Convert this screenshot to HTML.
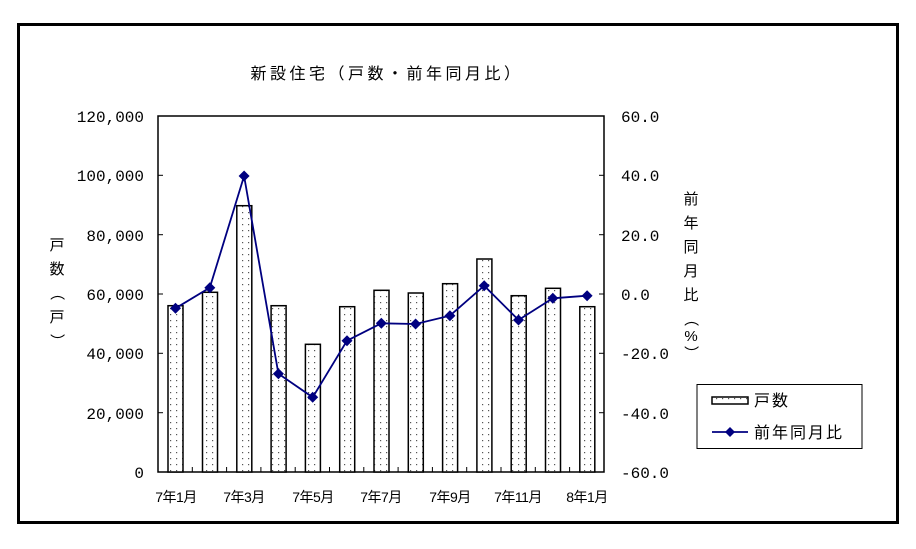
<!DOCTYPE html>
<html><head><meta charset="utf-8"><style>
body{margin:0;background:#fff;}
svg{display:block;font-family:"Liberation Sans","Noto Sans CJK JP",sans-serif;}
.num{font-family:"Liberation Mono",monospace;}
</style></head><body>
<svg width="916" height="549" viewBox="0 0 916 549">
<defs>
<pattern id="dots" width="6" height="6" patternUnits="userSpaceOnUse">
<rect width="6" height="6" fill="#fff"/><rect x="2" y="2" width="1.2" height="1.2" fill="#555"/>
</pattern>
</defs>
<rect x="18.5" y="24.5" width="879" height="498" fill="#fff" stroke="#000" stroke-width="3"/>
<text x="387" y="79" font-size="16" text-anchor="middle" letter-spacing="3.5">新設住宅（戸数・前年同月比）</text>
<rect x="158" y="116" width="446" height="356" fill="none" stroke="#000" stroke-width="1.5"/>
<g stroke="#000" stroke-width="1">
<line x1="158" y1="175.3" x2="163" y2="175.3"/><line x1="158" y1="234.7" x2="163" y2="234.7"/>
<line x1="158" y1="294" x2="163" y2="294"/><line x1="158" y1="353.3" x2="163" y2="353.3"/>
<line x1="158" y1="412.7" x2="163" y2="412.7"/>
<line x1="599" y1="175.3" x2="604" y2="175.3"/><line x1="599" y1="234.7" x2="604" y2="234.7"/>
<line x1="599" y1="294" x2="604" y2="294"/><line x1="599" y1="353.3" x2="604" y2="353.3"/>
<line x1="599" y1="412.7" x2="604" y2="412.7"/>
</g>
<g stroke="#000" stroke-width="1">
<line x1="192.3" y1="467" x2="192.3" y2="472"/><line x1="226.6" y1="467" x2="226.6" y2="472"/>
<line x1="260.9" y1="467" x2="260.9" y2="472"/><line x1="295.2" y1="467" x2="295.2" y2="472"/>
<line x1="329.5" y1="467" x2="329.5" y2="472"/><line x1="363.8" y1="467" x2="363.8" y2="472"/>
<line x1="398.1" y1="467" x2="398.1" y2="472"/><line x1="432.4" y1="467" x2="432.4" y2="472"/>
<line x1="466.7" y1="467" x2="466.7" y2="472"/><line x1="501" y1="467" x2="501" y2="472"/>
<line x1="535.3" y1="467" x2="535.3" y2="472"/><line x1="569.6" y1="467" x2="569.6" y2="472"/>
</g>
<g fill="url(#dots)" stroke="#000" stroke-width="1.5">
<rect x="168" y="305.7" width="15" height="166.3"/>
<rect x="202.5" y="292.3" width="15" height="179.7"/>
<rect x="236.8" y="205.7" width="15" height="266.3"/>
<rect x="271.1" y="305.7" width="15" height="166.3"/>
<rect x="305.4" y="344.3" width="15" height="127.7"/>
<rect x="339.7" y="306.7" width="15" height="165.3"/>
<rect x="374" y="290.3" width="15" height="181.7"/>
<rect x="408.3" y="293" width="15" height="179"/>
<rect x="442.6" y="283.7" width="15" height="188.3"/>
<rect x="476.9" y="259" width="15" height="213"/>
<rect x="511.2" y="295.7" width="15" height="176.3"/>
<rect x="545.5" y="288.3" width="15" height="183.7"/>
<rect x="579.8" y="306.7" width="15" height="165.3"/>
</g>
<polyline fill="none" stroke="#000080" stroke-width="1.8" points="175.5,308.3 209.8,287.7 244.1,176 278.4,373.7 312.7,397.3 347,340.7 381.3,323.3 415.6,324 449.9,315.7 484.2,285.7 518.5,320 552.8,298.3 587.1,295.7"/>
<g fill="#000080">
<path d="M175.5,302.8l5.5,5.5l-5.5,5.5l-5.5,-5.5z"/>
<path d="M209.8,282.2l5.5,5.5l-5.5,5.5l-5.5,-5.5z"/>
<path d="M244.1,170.5l5.5,5.5l-5.5,5.5l-5.5,-5.5z"/>
<path d="M278.4,368.2l5.5,5.5l-5.5,5.5l-5.5,-5.5z"/>
<path d="M312.7,391.8l5.5,5.5l-5.5,5.5l-5.5,-5.5z"/>
<path d="M347,335.2l5.5,5.5l-5.5,5.5l-5.5,-5.5z"/>
<path d="M381.3,317.8l5.5,5.5l-5.5,5.5l-5.5,-5.5z"/>
<path d="M415.6,318.5l5.5,5.5l-5.5,5.5l-5.5,-5.5z"/>
<path d="M449.9,310.2l5.5,5.5l-5.5,5.5l-5.5,-5.5z"/>
<path d="M484.2,280.2l5.5,5.5l-5.5,5.5l-5.5,-5.5z"/>
<path d="M518.5,314.5l5.5,5.5l-5.5,5.5l-5.5,-5.5z"/>
<path d="M552.8,292.8l5.5,5.5l-5.5,5.5l-5.5,-5.5z"/>
<path d="M587.1,290.2l5.5,5.5l-5.5,5.5l-5.5,-5.5z"/>
</g>
<g font-size="16" text-anchor="end" fill="#000" class="num">
<text x="144" y="122">120,000</text><text x="144" y="181">100,000</text>
<text x="144" y="241">80,000</text><text x="144" y="300">60,000</text>
<text x="144" y="359">40,000</text><text x="144" y="419">20,000</text>
<text x="144" y="478">0</text>
</g>
<g font-size="16" fill="#000" class="num">
<text x="621" y="122">60.0</text><text x="621" y="181">40.0</text>
<text x="621" y="241">20.0</text><text x="621" y="300">0.0</text>
<text x="621" y="359">-20.0</text><text x="621" y="419">-40.0</text>
<text x="621" y="478">-60.0</text>
</g>
<g font-size="15" text-anchor="middle">
<text x="57" y="250">戸</text><text x="57" y="274">数</text>
<text x="57" y="298" transform="rotate(90 57 293)">（</text>
<text x="57" y="322">戸</text>
<text x="57" y="346" transform="rotate(90 57 341)">）</text>
<text x="691" y="204">前</text><text x="691" y="228">年</text><text x="691" y="252">同</text>
<text x="691" y="276">月</text><text x="691" y="300">比</text>
<text x="691" y="324" transform="rotate(90 691 319)">（</text>
<text x="691" y="341">%</text>
<text x="691" y="358" transform="rotate(90 691 353)">）</text>
</g>
<g font-size="14" text-anchor="middle" letter-spacing="-0.5">
<text x="176" y="502">7年1月</text><text x="244" y="502">7年3月</text>
<text x="313" y="502">7年5月</text><text x="381" y="502">7年7月</text>
<text x="450" y="502">7年9月</text><text x="518" y="502">7年11月</text>
<text x="587" y="502">8年1月</text>
</g>
<rect x="697" y="384.5" width="165" height="64" fill="#fff" stroke="#000" stroke-width="1"/>
<rect x="712" y="397" width="36" height="7" fill="url(#dots)" stroke="#000" stroke-width="1.5"/>
<text x="754" y="406" font-size="16" letter-spacing="2">戸数</text>
<line x1="712" y1="432" x2="748" y2="432" stroke="#000080" stroke-width="1.8"/>
<path d="M730,427l5,5l-5,5l-5,-5z" fill="#000080"/>
<text x="754" y="438" font-size="16" letter-spacing="2">前年同月比</text>
</svg>
</body></html>
